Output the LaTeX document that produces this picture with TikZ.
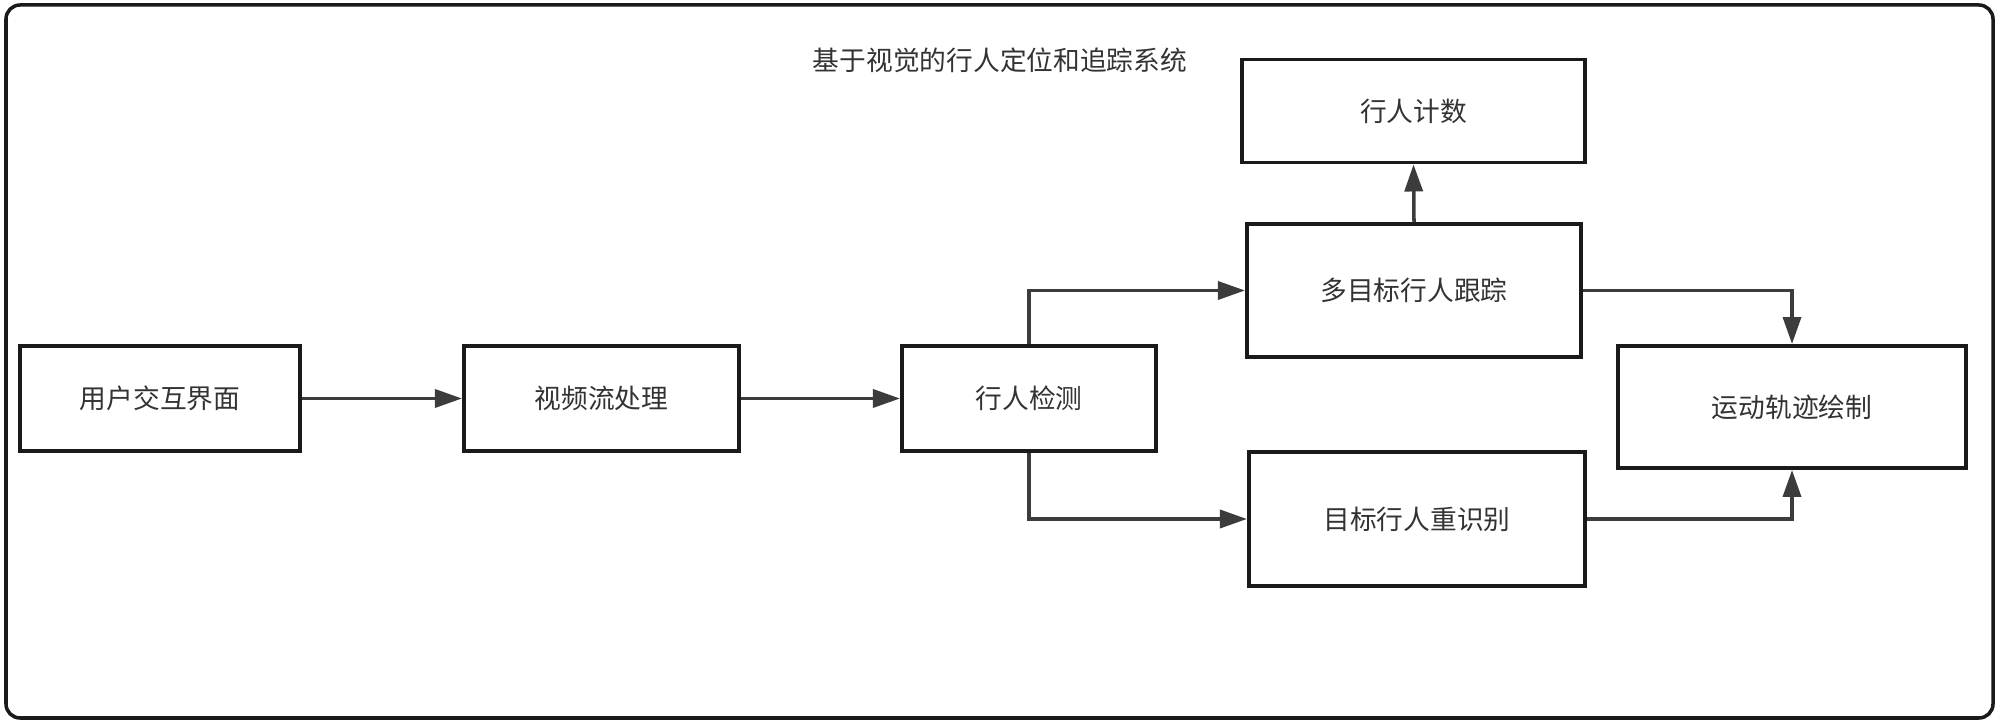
\documentclass[tikz,border=0pt]{standalone}
\usepackage{fontspec}
\setmainfont{Noto Sans CJK SC}
\definecolor{boxline}{RGB}{26,26,26}
\definecolor{arrline}{RGB}{60,60,60}
\definecolor{txtgray}{RGB}{51,51,51}
\usetikzlibrary{arrows.meta,positioning}

\begin{document}
\begin{tikzpicture}[x=0.01cm, y=-0.01cm,
        procbox/.style={rectangle, draw=boxline, line width=1.1pt, fill=white,
                        align=center, font=\fontsize{7.6pt}{9pt}\selectfont, text=txtgray},
        arr/.style={-{Triangle[length=0.27cm, width=0.18cm]}, line width=1pt, arrline}
      ]
        \useasboundingbox (0,0) rectangle (2000,722);
        % Outer frame
        \draw[boxline, line width=1pt, rounded corners=4pt] (6,5) rectangle (1993,718);
        \node[font=\fontsize{7.6pt}{9pt}\selectfont, text=txtgray] (title) at (1000,60)
          {基于视觉的行人定位和追踪系统};
        % Boxes
        \node[procbox, minimum width=2.80cm, minimum height=1.05cm] (ui) at (160,398.5) {用户交互界面};
        \node[procbox, minimum width=2.75cm, minimum height=1.05cm] (video) at (601.5,398.5) {视频流处理};
        \node[procbox, minimum width=2.54cm, minimum height=1.05cm] (detect) at (1029,398.5) {行人检测};
        \node[procbox, minimum width=3.43cm, minimum height=1.03cm] (count) at (1413.5,111) {行人计数};
        \node[procbox, minimum width=3.34cm, minimum height=1.33cm] (track) at (1414,290.5) {多目标行人跟踪};
        \node[procbox, minimum width=3.36cm, minimum height=1.34cm] (reid) at (1417,519) {目标行人重识别};
        \node[procbox, minimum width=3.48cm, minimum height=1.22cm] (traj) at (1792,407) {运动轨迹绘制};
        % Connectors
        \draw[arr] (ui) -- (video);
        \draw[arr] (video) -- (detect);
        \draw[arr] (detect.north) |- (track.west);
        \draw[arr] (detect.south) |- (reid.west);
        \draw[arr] (track.north) -- (count.south);
        \draw[arr] (track.east) -| (traj.north);
        \draw[arr] (reid.east) -| (traj.south);
      \end{tikzpicture}
\end{document}
